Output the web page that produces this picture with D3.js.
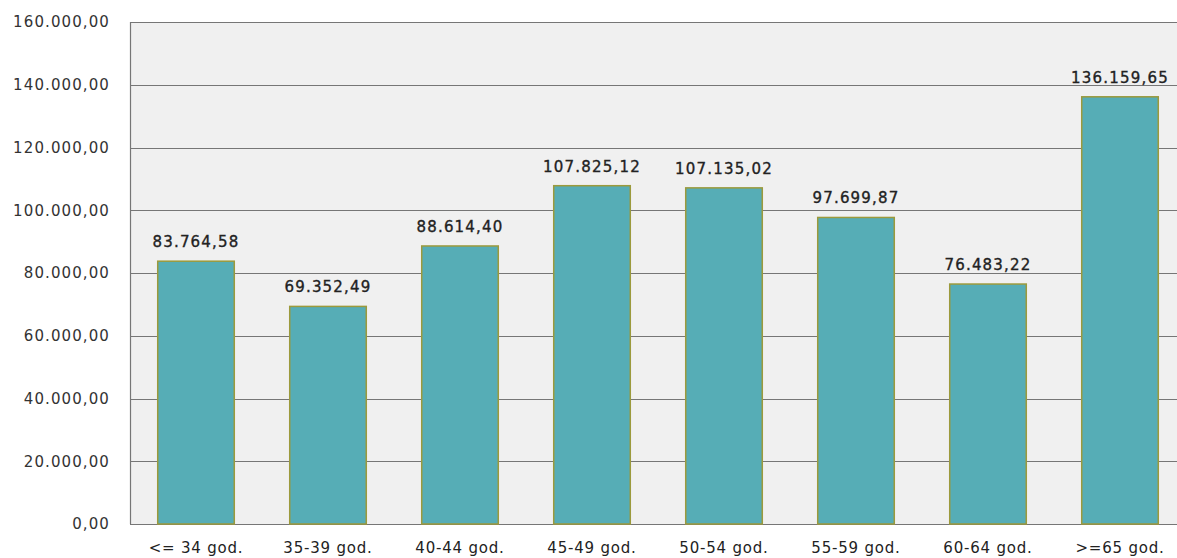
<!DOCTYPE html>
<html>
<head>
<meta charset="utf-8">
<script src="https://cdn.jsdelivr.net/npm/d3@7"></script>
<style>
  html, body { margin: 0; padding: 0; background: #fff; }
  svg { display: block; }
</style>
</head>
<body>
<svg width="1177" height="558"></svg>
<script>
// age groups and average values
var categories = ["<= 34 god.", "35-39 god.", "40-44 god.", "45-49 god.",
                  "50-54 god.", "55-59 god.", "60-64 god.", ">=65 god."];
var values = [83764.58, 69352.49, 88614.40, 107825.12,
              107135.02, 97699.87, 76483.22, 136159.65];
var yTicks = [0, 20000, 40000, 60000, 80000, 100000, 120000, 140000, 160000];

var plotL = 130, plotR = 1186, plotT = 22, plotB = 524;

// 1.234,56 style numbers
var fmt = function(v) {
    var s = d3.format(",.2f")(v);
    return s.replace(/,/g, "#").replace(".", ",").replace(/#/g, ".");
};

var svg = d3.select("svg");

var scX = d3.scaleBand()
    .domain(categories)
    .range([plotL, plotR])
    .paddingInner(0.42).paddingOuter(0.21);
var scY = d3.scaleLinear()
    .domain([0, 160000])
    .range([plotB, plotT]);

svg.append("rect")
    .attr("x", plotL).attr("y", plotT)
    .attr("width", plotR - plotL).attr("height", plotB - plotT)
    .attr("fill", "#f0f0f0");

// grid lines
svg.append("g")
    .selectAll("line")
    .data(yTicks).enter().append("line")
    .attr("x1", plotL).attr("x2", plotR)
    .attr("y1", d => Math.round(scY(d)) + 0.5)
    .attr("y2", d => Math.round(scY(d)) + 0.5)
    .attr("stroke", "#767676").attr("stroke-width", 1.2);

svg.append("line")
    .attr("x1", plotL + 0.5).attr("x2", plotL + 0.5)
    .attr("y1", plotT).attr("y2", plotB)
    .attr("stroke", "#767676").attr("stroke-width", 1.2);

// y axis labels
var yAxis = d3.axisLeft(scY).tickValues(yTicks).tickFormat(fmt)
    .tickSize(0).tickPadding(20);
svg.append("g")
    .attr("transform", "translate(" + plotL + ",0)")
    .call(yAxis)
    .call(g => g.select(".domain").remove())
    .selectAll("text")
    .attr("font-family", "DejaVu Sans").attr("font-size", 15)
    .attr("letter-spacing", 1.1).attr("fill", "#333");

// bars
svg.append("g")
    .selectAll("rect")
    .data(values).enter().append("rect")
    .attr("x", (d, i) => scX(categories[i]))
    .attr("y", d => scY(d))
    .attr("width", scX.bandwidth())
    .attr("height", d => scY(0) - scY(d))
    .attr("fill", "#56adb6")
    .attr("stroke", "#9c9a3c").attr("stroke-width", 1.5);

// value labels
svg.append("g")
    .selectAll("text")
    .data(values).enter().append("text")
    .attr("x", (d, i) => scX(categories[i]) + scX.bandwidth() / 2)
    .attr("y", d => scY(d) - 14)
    .attr("text-anchor", "middle")
    .attr("font-family", "DejaVu Sans").attr("font-size", 15)
    .attr("letter-spacing", 1.2)
    .attr("fill", "#222").attr("stroke", "#222").attr("stroke-width", 0.35)
    .text(d => fmt(d));

// x axis labels
var xAxis = d3.axisBottom(scX).tickSize(0).tickPadding(18);
svg.append("g")
    .attr("transform", "translate(0," + plotB + ")")
    .call(xAxis)
    .call(g => g.select(".domain").remove())
    .selectAll("text")
    .attr("font-family", "DejaVu Sans").attr("font-size", 15)
    .attr("letter-spacing", 0.8).attr("fill", "#222");
</script>
</body>
</html>
